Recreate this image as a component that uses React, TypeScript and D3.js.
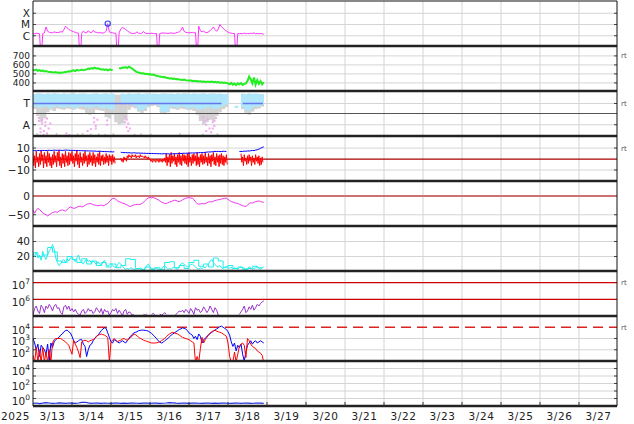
import React from 'react';
import * as d3 from 'd3';

const START = Date.UTC(2025, 2, 13);
const END = Date.UTC(2025, 2, 28);
const HOUR = 3600e3;

// hourly values from 3/13 00:00 UT

// GOES X-ray flux, in 1e-6 W/m2 (0 = data dropout)
const xrayC = [
  1.6, 1.5, 1.7, 1.6, 1.5, 0, 1.6, 1.8, 6.0, 2.5, 2.0, 1.9,
  1.8, 2.2, 2.0, 1.9, 2.0, 2.3, 2.1, 3.5, 7.0, 5.0, 3.8, 3.0,
  2.6, 2.3, 2.0, 1.8, 1.7, 0, 1.7, 2.6, 1.9, 1.8, 2.8, 2.0,
  1.9, 3.0, 2.2, 2.0, 1.8, 1.9, 1.8, 1.7, 1.9, 2.5, 12, 2.2,
  1.9, 1.8, 1.7, 1.6, 0, 1.8, 4.0, 5.5, 4.5, 3.6, 2.8, 2.2,
  1.8, 1.6, 1.6, 1.7, 2.2, 1.7, 1.6, 1.7, 2.4, 1.7, 1.6, 1.6,
  1.6, 1.7, 1.6, 1.5, 1.6, 0, 1.6, 1.7, 1.8, 1.7, 1.7, 1.6,
  1.7, 1.8, 1.7, 1.6, 1.8, 2.0, 2.2, 3.0, 6.0, 2.5, 2.0, 1.9,
  1.8, 1.9, 2.0, 1.8, 1.9, 0, 7.0, 2.8, 2.2, 2.5, 2.0, 1.9,
  2.2, 2.8, 4.0, 6.0, 3.5, 2.5, 4.0, 10, 6.5, 4.5, 3.4, 2.6,
  2.1, 1.8, 1.7, 1.6, 1.6, 0, 1.6, 1.5, 1.6, 1.5, 1.7, 1.5,
  1.6, 1.5, 1.7, 1.6, 1.8, 1.5, 1.6, 1.5, 1.6, 1.5, 1.4,
];
const flareMarks = [{ h: 46, v: 12 }];

// solar wind speed (km/s)
const windSpeed = [
  545, 540, 548, 535, 542, 530, 538, 528, 532, 525, 520, 522,
  518, 515, 520, 512, 516, 510, 515, 518, 522, 525, 530, 528,
  535, 540, 532, 545, 538, 542, 548, 540, 545, 550, 560, 555,
  565, 558, 570, 560, 562, 555, 548, 552, 545, 550, 540, 548,
  545, 540, null, null, null, 565, 560, 570, 568, 575, 565, 580,
  570, 560, 545, 530, 520, 515, 510, 505, 508, 500, 502, 495,
  498, 490, 492, 485, 480, 475, 470, 468, 462, 465, 458, 455,
  450, 452, 445, 448, 440, 442, 438, 435, 432, 436, 430, 428,
  425, 428, 420, 424, 418, 420, 415, 418, 412, 416, 410, 414,
  412, 410, 415, 408, 412, 405, 410, 402, 406, 400, 404, 398,
  395, 385, 400, 380, 392, 375, 395, 385, 398, 378, 390, 395,
  420, 470, 440, 395, 460, 380, 430, 390, 420, 385, 410,
];

// IMF sector (phi, deg) in 2-hour bins: light blue band, grey spread
const sectorTop = [
  24, 20, 22, 25, 21, 23, 20, 22, 24, 21, 23, 22, 20, 24, 22, 21, 23, 25, 22, 20, 24, 22, 21, 23, 22,
  null, null,
  22, 24, 21, 23, 22, 20, 24, 22, 21, 23, 22, 24,
  22, 21, 23,
  22, 24, 21, 23, 20, 22, 24, 21, 23, 22, 20, 24, 22, 21, 23, 22,
  24, 26, null, null, 118, null,
  22, 24, 21, 23, 22, 24, 26,
  null,
];
const sectorBottom = [
  125, 130, 135, 120, 128, 140, 125, 118, 130, 135, 122, 128, 140, 132, 125, 120, 130, 138, 128, 122, 135, 140, 130, 145, 150,
  null, null,
  95, 100, 105, 110, 120, 150, 155, 140, 110, 105, 100, 115,
  165, 170, 160,
  125, 130, 135, 120, 128, 140, 135, 130, 145, 150, 140, 135, 130, 145, 140, 130,
  120, 105, null, null, 135, null,
  130, 150, 160, 135, 120, 125, 110,
  null,
];
const sectorGrey = [
  145, 200, 250, 220, 170, 150, 160, 140, 145, 150, 140, 145, 150, 140, 145, 150, 175, 190, 180, 150, 155, 160, 210, 220, 190,
  250, 270,
  260, 230, 150, 130, 140, 165, 175, 160, 130, 120, 115, 130,
  175, 185, 170,
  140, 145, 150, 140, 145, 150, 150, 160, 190, 240, 270, 250, 230, 240, 200, 170,
  145, 130, null, null, null, null,
  145, 175, 190, 165, 145, 140, 125,
  null,
];
const sectorPink = [
  [3, 215], [3, 240], [4, 300], [5, 230], [5, 260], [6, 320], [7, 250], [7, 280], [8, 220], [9, 300], [10, 260],
  [4, 330], [8, 340], [20, 340], [33, 320], [35, 305], [37, 215], [37, 250], [38, 280], [38, 300], [39, 230], [45, 235],
  [45, 270], [56, 205], [56, 250], [57, 230], [57, 290], [58, 320], [58, 260], [59, 300],
  [104, 210], [105, 240], [106, 270], [107, 225], [108, 300], [109, 330], [110, 250], [111, 280], [112, 215],
  [106, 320], [110, 300], [111, 240],
];
const sectorGreyDots = [
  [2, 345], [6, 350], [14, 345], [22, 352], [27, 348], [30, 345], [35, 350], [40, 348], [44, 352],
  [49, 346], [62, 350], [66, 348], [72, 350], [90, 345], [104, 350], [113, 348],
];
const sectorMean = [[0, 116], [129, 141.5]];

// IMF Bt and Bz (nT); Bz as hourly max / min
const imfBt = [
  7.6, 7.7, 7.5, 7.8, 7.7, 7.6, 7.9, 7.8, 7.7, 7.9, 8.0, 7.8,
  7.9, 8.1, 8.0, 7.9, 8.1, 8.0, 7.8, 8.0, 8.2, 8.1, 8.0, 7.9,
  8.0, 7.8, 7.9, 7.7, 7.8, 7.6, 7.7, 7.5, 7.6, 7.4, 7.5, 7.3,
  7.4, 7.2, 7.3, 7.1, 7.0, 7.2, 7.0, 6.8, 6.9, 6.7, 6.8, 6.6,
  6.7, 6.5, 6.6, null, null, null, 6.2, 6.0, 5.8, 5.9, 5.7, 5.8,
  5.6, 5.5, 5.7, 5.6, 5.4, 5.5, 5.3, 5.4, 5.2, 5.3, 5.1, 5.2,
  5.0, 5.1, 5.0, 4.9, 5.0, 4.8, 4.9, 4.7, 4.8, 4.9, 4.7, 4.8,
  4.6, 4.7, 4.8, 4.9, 4.8, 5.0, 5.1, 5.0, 5.2, 5.3, 5.2, 5.4,
  5.3, 5.5, 5.6, 5.5, 5.7, 5.6, 5.8, 5.9, 5.8, 6.0, 6.1, 6.3,
  6.5, 6.4, 6.6, 6.8, 7.0, 6.9, 7.0, 6.8, 6.9, 7.1, 7.0, 6.9,
  null, null, null, null, null, null, null, 6.8, 7.0, 6.9, 7.2, 7.1,
  7.4, 7.3, 7.6, 7.8, 7.7, 8.2, 8.5, 9.0, 9.8, 10.5, 11.2,
];
const bzMax = [
  6, 3, 7, 2, 5, 8, 4, 6, 3, 7, 5, 2,
  4, 7, 3, 6, 8, 2, 5, 4, 7, 3, 6, 5,
  7, 3, 5, 8, 4, 6, 2, 5, 7, 3, 4, 6,
  3, 6, 4, 2, 5, 7, 3, 4, 2, 5, 3, 4,
  3, 4, 2, null, null, null, 1, 0, 2, 1, 3, 4,
  3, 4, 3, 4, 3, 3, 4, 3, 2, 3, 2, 2,
  0, -1, 0, -1, 0, -1, 0, -1, 0, 1, 5, 2,
  4, 6, 3, 5, 2, 4, 6, 3, 5, 4, 3, 5,
  6, 2, 4, 5, 3, 6, 2, 4, 5, 3, 6, 2,
  5, 3, 4, 6, 2, 5, 3, 4, 5, 3, 2, 4,
  null, null, null, null, null, null, null, null, 5, 2, 4, 1,
  3, 4, 2, 3, 1, 4, 2, 3, 1, 2, null,
];
const bzMin = [
  -6, -8, -3, -7, -5, -2, -8, -4, -7, -3, -6, -8,
  -5, -3, -7, -2, -6, -8, -4, -7, -3, -6, -5, -2,
  -4, -7, -2, -5, -8, -3, -6, -4, -2, -7, -5, -3,
  -6, -4, -7, -3, -5, -6, -2, -5, -4, -3, -6, -2,
  -5, -3, -4, null, null, null, -2, -3, -1, -2, 1, 2,
  1, 2, 2, 1, 2, 1, 2, 2, 1, 1, 0, 0,
  -2, -3, -2, -3, -2, -3, -2, -3, -2, -3, -6, -3,
  -7, -4, -2, -5, -7, -3, -5, -6, -2, -4, -5, -7,
  -3, -6, -4, -2, -6, -5, -7, -3, -5, -4, -3, -6,
  -4, -7, -2, -5, -6, -3, -7, -4, -5, -6, -3, -5,
  null, null, null, null, null, null, null, null, -3, -6, -2, -5,
  -4, -2, -6, -3, -5, -2, -4, -6, -5, -3, null,
];

// Dst index (nT)
const dst = [
  -37, -46, -38, -33, -36, -40, -45, -48, -50, -53, -50, -47,
  -44, -43, -42, -44, -40, -38, -37, -39, -40, -36, -32, -29,
  -31, -33, -32, -30, -28, -27, -29, -28, -25, -22, -21, -20,
  -21, -23, -24, -25, -26, -25, -24, -26, -25, -22, -20, -15,
  -10, -7, -6, -9, -13, -15, -17, -19, -20, -22, -24, -27,
  -28, -26, -24, -23, -22, -23, -22, -20, -17, -12, -8, -5,
  -4, -5, -4, -6, -8, -10, -13, -16, -18, -20, -20, -18,
  -16, -15, -13, -11, -12, -14, -15, -13, -10, -8, -6, -5,
  -4, -6, -5, -10, -16, -20, -22, -21, -20, -21, -20, -18,
  -16, -15, -16, -14, -12, -11, -10, -9, -8, -7, -6, -6,
  -9, -12, -15, -16, -18, -19, -20, -22, -24, -26, -27, -28,
  -24, -20, -18, -19, -17, -15, -14, -13, -15, -16, -17,
];

// cyan panel: hourly series and 3-hourly series
const cyanHourly = [
  24, 20, 26, 18, 22, 15, 27, 20, 16, 22, 28, 30,
  36, 30, 18, 12, 8, 10, 14, 16, 12, 17, 14, 18,
  20, 16, 13, 18, 22, 15, 12, 10, 14, 17, 13, 15,
  11, 14, 12, 9, 13, 10, 8, 12, 15, 10, 7, 9,
  11, 8, 6, 5, 9, 12, 10, 7, 5, 3, 4, 3,
  5, 4, 3, 2, 4, 3, 5, 3, 2, 4, 8, 10,
  6, 4, 3, 5, 4, 3, 2, 4, 6, 8, 5, 3,
  4, 3, 5, 6, 4, 3, 7, 10, 12, 9, 8, 6,
  7, 9, 10, 8, 6, 4, 3, 5, 4, 6, 5, 8,
  10, 14, 16, 12, 9, 7, 6, 8, 5, 4, 6, 7,
  5, 4, 6, 3, 5, 4, 3, 5, 6, 4, 5, 3,
  4, 6, 5, 3, 4, 5, 7, 4, 3, 5, 6,
];
const cyan3h = [
  25, 20, 22, 32, 26, 14, 12, 20, 16, 12, 17, 10,
  14, 8, 12, 6, 10, 5, 8, 17, 16, 4, 3, 6,
  3, 5, 3, 12, 13, 5, 8, 4, 12, 15, 7, 10,
  6, 18, 14, 5, 8, 4, 6, 3, 4, 7, 5, 6,
];

// electron flux, log10
const electronLog = [
  5.05, 5.45, 5.6, 5.3, 5.15, 5.65, 5.5, 5.2, 5.6, 5.45, 5.7, 5.55,
  5.3, 5.6, 5.7, 5.45, 5.5, 5.2, 5.1, 5.55, 5.65, 5.4, 5.6, 5.3,
  5.45, 5.25, 5.4, 5.2, 5.1, 5.05, 5.3, 5.4, 5.15, 5.25, 5.45, 5.3,
  5.35, 5.15, 5.25, 5.5, 5.35, 5.2, 5.45, 5.1, 5.4, 5.25, 5.3, 5.05,
  5.2, 5.4, 5.3, 5.45, 5.15, 5.35, 5.2, 5.0, 5.3, 5.4, 5.1, 5.25,
  5.2, 5.05, 5.1, null, null, null, null, null, 5.1, 5.05, 5.12, null,
  null, 5.1, 5.15, 5.08, null, null, 5.12, 5.05, 5.1, 5.2, 5.12, null,
  null, null, null, 5.0, 5.1, 5.2, 5.3, 5.25, 5.35, 5.2, 5.4, 5.3,
  5.15, 5.45, 5.3, 5.1, 5.5, 5.35, 5.4, 5.2, 5.3, 5.55, 5.4, 5.2,
  5.35, 5.6, 5.4, 5.2, 5.5, 5.35, 5.05, null, null, null, null, null,
  null, null, 5.3, null, null, null, null, 5.1, 5.25, 5.4, 5.6, 5.2,
  5.3, 5.55, 5.4, 5.65, 5.35, 5.5, 5.7, 5.6, 5.75, 5.85, 5.9,
];

// proton flux, log10 (two channels)
const protonBlueLog = [
  3.0, 2.6, 2.0, 2.5, 1.4, 2.4, 2.2, 2.0, 1.6, 2.5, 1.0, 2.6,
  2.2, 2.7, 2.9, 3.0, 3.1, 3.3, 3.4, 3.6, 3.7, 3.75, 3.6, 3.5,
  3.2, 2.8, 2.6, 2.7, 2.8, 2.9, 2.9, 2.5, 2.3, 1.4, 2.0, 2.4,
  2.5, 2.8, 3.0, 3.2, 3.3, 3.5, 3.7, 3.85, 3.95, 3.9, 3.5, 3.1,
  2.7, 2.6, 2.9, 2.8, 2.7, 2.6, 2.7, 2.8, 2.7, 2.6, 2.8, 3.0,
  3.2, 3.35, 3.5, 3.55, 3.6, 3.7, 3.72, 3.75, 3.74, 3.72, 3.7, 3.65,
  3.55, 3.45, 3.3, 3.15, 3.0, 2.8, 2.7, 2.6, 2.65, 2.8, 2.9, 3.0,
  3.15, 3.3, 3.4, 3.5, 3.6, 3.7, 3.8, 3.85, 3.95, 3.9, 3.85, 3.7,
  3.5, 3.4, 3.3, 3.0, 3.2, 2.9, 3.4, 3.2, 2.6, 2.9, 3.0, 3.2,
  3.3, 3.45, 3.55, 3.65, 3.75, 3.85, 3.95, 4.05, 4.1, 4.0, 3.9, 3.8,
  3.6, 3.3, 2.7, 2.3, 2.6, 1.9, 2.4, 2.2, 2.5, 1.6, 1.0, 1.8,
  2.4, 2.6, 2.8, 2.5, 2.7, 2.8, 2.6, 2.7, 2.8, 2.7, 2.6,
];
const protonRedLog = [
  1.5, 0.9, 2.2, 0.9, 2.0, 0.9, 2.2, 0.9, 1.8, 0.9, 2.0, 0.9,
  2.6, 2.9, 3.0, 3.0, 3.0, 3.0, 2.9, 2.8, 2.7, 2.55, 2.4, 2.0,
  1.6, 2.85, 2.5, 2.2, 1.8, 1.3, 2.7, 2.8, 2.85, 2.8, 2.7, 2.8,
  2.85, 2.9, 3.0, 3.15, 3.3, 3.35, 3.4, 3.35, 3.3, 3.2, 3.1, 0.9,
  2.7, 2.85, 3.0, 2.85, 2.7, 2.8, 2.85, 2.95, 3.0, 2.9, 2.85, 2.95,
  3.1, 3.2, 3.4, 3.35, 3.25, 3.1, 3.0, 2.95, 2.85, 2.8, 2.75, 2.7,
  2.65, 2.6, 2.6, 2.6, 2.62, 2.65, 2.7, 2.8, 2.9, 3.0, 3.15, 3.3,
  3.4, 3.5, 3.55, 3.5, 3.45, 3.4, 3.3, 3.2, 3.1, 3.05, 3.0, 2.95,
  2.9, 2.8, 2.7, 2.6, 0.9, 1.4, 0.9, 2.1, 3.1, 2.6, 2.9, 3.1,
  3.3, 3.5, 3.6, 3.7, 3.75, 3.65, 3.6, 3.55, 3.5, 3.4, 3.3, 3.2,
  2.6, 1.4, 0.9, 0.9, 1.8, 0.9, 1.6, 2.3, 2.5, 2.6, 2.4, 1.3,
  3.0, 2.8, 2.5, 2.3, 2.2, 2.1, 1.9, 1.8, 1.7, 1.5, 0.9,
];

// bottom panel, log10, 2-hour values
const bottomLog = [
  -0.65, -0.6, -0.68, -0.62, -0.55, -0.6, -0.66, -0.63, -0.58, -0.61, -0.64, -0.6,
  -0.62, -0.66, -0.6, -0.52, -0.5, -0.58, -0.64, -0.6, -0.62, -0.65, -0.6, -0.63,
  -0.66, -0.62, -0.6, -0.64, -0.61, -0.65, -0.62, -0.6, -0.63, -0.66, -0.62, -0.6,
  -0.64, -0.6, -0.62, -0.66, -0.63, -0.6, -0.55, -0.58, -0.62, -0.64, -0.6, -0.62,
  -0.65, -0.62, -0.6, -0.63, -0.66, -0.62, -0.6, -0.64, -0.61, -0.65, -0.62, -0.6,
  -0.63, -0.66, -0.62, -0.6, -0.64, -0.6, -0.62, -0.66, -0.63, -0.6, -0.62, -0.64,
];

const L = 33;
const R = 618;
const PH = 45;
const tops = d3.range(9).map(i => 1 + PH * i);
const GRID = '#d4d4d4';
const FONT = 'DejaVu Sans, sans-serif';

type Pt = { h: number; v: number | null };
const hourly = (arr: (number | null)[], step = 1): Pt[] => arr.map((v, i) => ({ h: i * step, v }));

function Lbl({ y, t, size }: { y: number; t: string; size?: number }) {
  return <text x={30} y={y} dy="0.36em" textAnchor="end" fontSize={size}>{t}</text>;
}
function Pow({ y, e }: { y: number; e: string }) {
  return (
    <text x={30} y={y + 3} dy="0.36em" textAnchor="end">
      10<tspan dy={-5} fontSize={7.5}>{e}</tspan>
    </text>
  );
}

export default function App() {
  const x = d3.scaleUtc().domain([new Date(START), new Date(END)]).range([L, R]);
  const xh = (h: number) => x(new Date(START + h * HOUR));
  const days = d3.utcDay.range(new Date(START), new Date(END));
  const fmt = d3.utcFormat('%-m/%-d');

  const yX = d3.scaleLog().domain([1e-7, 1e-3]).range([47, 2]);
  const yV = d3.scaleLinear().domain([310, 810]).range([91, 46]);
  const yP = d3.scaleLinear().domain([0, 360]).range([91, 136]);
  const yB = d3.scaleLinear().domain([-20, 21]).range([181, 136]);
  const yD = d3.scaleLinear().domain([-80, 40]).range([226, 181]);
  const yC = d3.scaleLinear().domain([0, 60]).range([271.5, 226.5]);
  const yE = d3.scaleLog().domain([1e5, Math.pow(10, 7.7)]).range([316, 271]);
  const yPr = d3.scaleLog().domain([10, 1e5]).range([361, 316]);
  const yN = d3.scaleLog().domain([0.1, 1e5]).range([406, 361]);

  const mk = (y: (v: number) => number, curve: d3.CurveFactory = d3.curveLinear) =>
    d3.line<Pt>().defined(d => d.v != null).x(d => xh(d.h)).y(d => y(d.v as number)).curve(curve);

  const xrayPath = mk(v => (v > 0 ? yX(v * 1e-6) : 60))(hourly(xrayC));
  const speedPath = mk(yV)(hourly(windSpeed));
  const btPath = mk(yB)(hourly(imfBt));
  const bzPts: Pt[] = [];
  bzMax.forEach((hi, i) => {
    bzPts.push({ h: i, v: hi });
    bzPts.push({ h: i + 0.5, v: bzMin[i] });
  });
  const bzPath = mk(yB)(bzPts);
  const dstPath = mk(yD)(hourly(dst));
  const cyanPathA = mk(yC)(hourly(cyanHourly));
  const cyanPathB = mk(yC, d3.curveStepAfter)(hourly(cyan3h, 3));
  const ePath = mk(v => yE(Math.pow(10, v)))(hourly(electronLog));
  const pbPath = mk(v => yPr(Math.pow(10, v)))(hourly(protonBlueLog));
  const prPath = mk(v => yPr(Math.pow(10, v)))(hourly(protonRedLog));
  const nPath = mk(v => yN(Math.pow(10, v)))(hourly(bottomLog, 2));

  const hGrid: number[] = [
    yX(1e-6), yX(1e-5), yX(1e-4),
    yV(400), yV(500), yV(600), yV(700),
    yP(100), yP(270),
    yB(10), yB(-10),
    yD(-50),
    yC(20), yC(40),
    yPr(100), yPr(1000),
    yN(1), yN(10), yN(100), yN(1000), yN(1e4),
  ];

  return (
    <div style={{ position: 'absolute', left: 0, top: 0 }}>
      <svg width={634} height={424} style={{ display: 'block', background: '#fff' }} fontFamily={FONT}>
        <defs>
          {tops.map((t, i) => (
            <clipPath id={`pc${i}`} key={i}>
              <rect x={L} y={t} width={R - 1 - L} height={PH} />
            </clipPath>
          ))}
        </defs>

        {/* grid */}
        {days.slice(1).map((d, i) => (
          <line key={i} x1={x(d)} x2={x(d)} y1={1} y2={406} stroke={GRID} />
        ))}
        {hGrid.map((y, i) => (
          <g key={i}>
            <line x1={L} x2={R - 1} y1={y} y2={y} stroke={GRID} />
            <line x1={L} x2={L + 3} y1={y} y2={y} stroke="#444" />
            <line x1={R - 4} x2={R - 1} y1={y} y2={y} stroke="#444" />
          </g>
        ))}

        {/* X-ray */}
        <g clipPath="url(#pc0)">
          <path d={xrayPath ?? ''} fill="none" stroke="#ff33ff" strokeWidth={1} />
          {flareMarks.map((f, i) => (
            <circle key={i} cx={xh(f.h)} cy={yX(f.v * 1e-6)} r={2.6} fill="none" stroke="#3344ff" strokeWidth={1.2} />
          ))}
        </g>

        {/* wind speed */}
        <g clipPath="url(#pc1)">
          <path d={speedPath ?? ''} fill="none" stroke="#22ee22" strokeWidth={2} />
        </g>

        {/* sector */}
        <g clipPath="url(#pc2)">
          {sectorGrey.map((g, i) =>
            g == null ? null : (
              <rect key={'g' + i} x={xh(i * 2)} width={xh(2) - xh(0) + 0.3}
                y={yP(sectorTop[i] ?? 30)} height={yP(g) - yP(sectorTop[i] ?? 30)} fill="#d2d2d2" />
            )
          )}
          {sectorGreyDots.map(([h, p], i) => (
            <rect key={'d' + i} x={xh(h)} y={yP(p) - 1} width={1.6} height={1.6} fill="#c4c4c4" />
          ))}
          {sectorTop.map((t, i) =>
            t == null || sectorBottom[i] == null ? null : (
              <rect key={'b' + i} x={xh(i * 2)} width={xh(2) - xh(0) + 0.3}
                y={yP(t)} height={yP(sectorBottom[i] as number) - yP(t)} fill="#aee6fb" />
            )
          )}
          {sectorPink.map(([h, p], i) => (
            <rect key={'p' + i} x={xh(h)} y={yP(p) - 1} width={2} height={2} fill="#f4a8f0" />
          ))}
          {sectorMean.map(([a, b], i) => (
            <line key={'m' + i} x1={xh(a)} x2={xh(b)} y1={yP(100)} y2={yP(100)} stroke="#6677ee" strokeWidth={1.5} />
          ))}
        </g>
        <line x1={L} x2={R - 1} y1={yP(180)} y2={yP(180)} stroke="#555" strokeWidth={1.2} />

        {/* IMF */}
        <line x1={L} x2={R - 1} y1={yB(0)} y2={yB(0)} stroke="#aa0000" strokeWidth={1.2} />
        <g clipPath="url(#pc3)">
          <path d={bzPath ?? ''} fill="none" stroke="#ff0000" strokeWidth={1} />
          <path d={btPath ?? ''} fill="none" stroke="#0000ff" strokeWidth={1} />
        </g>

        {/* Dst */}
        <line x1={L} x2={R - 1} y1={yD(0)} y2={yD(0)} stroke="#cc7272" strokeWidth={2} />
        <g clipPath="url(#pc4)">
          <path d={dstPath ?? ''} fill="none" stroke="#ee33ee" strokeWidth={1} />
        </g>

        {/* cyan */}
        <g clipPath="url(#pc5)">
          <path d={cyanPathB ?? ''} fill="none" stroke="#22eeee" strokeWidth={1} />
          <path d={cyanPathA ?? ''} fill="none" stroke="#22eeee" strokeWidth={1} />
        </g>

        {/* electrons */}
        <line x1={L} x2={R - 1} y1={yE(1e6)} y2={yE(1e6)} stroke="#cc0000" strokeWidth={1.2} />
        <line x1={L} x2={R - 1} y1={yE(1e7)} y2={yE(1e7)} stroke="#cc0000" strokeWidth={1.2} />
        <g clipPath="url(#pc6)">
          <path d={ePath ?? ''} fill="none" stroke="#9933cc" strokeWidth={1} />
        </g>

        {/* protons */}
        <line x1={L} x2={R - 1} y1={yPr(1e4)} y2={yPr(1e4)} stroke="#dd2222" strokeWidth={1.3} strokeDasharray="10,6" />
        <g clipPath="url(#pc7)">
          <path d={pbPath ?? ''} fill="none" stroke="#0000ff" strokeWidth={1} />
          <path d={prPath ?? ''} fill="none" stroke="#ff0000" strokeWidth={1} />
        </g>

        {/* bottom */}
        <g clipPath="url(#pc8)">
          <path d={nPath ?? ''} fill="none" stroke="#2233dd" strokeWidth={1.2} />
        </g>

        {/* frame */}
        <line x1={L} x2={R - 1} y1={1} y2={1} stroke="#111" />
        {tops.map((t, i) => (
          <line key={i} x1={L} x2={R - 1} y1={t + PH} y2={t + PH} stroke="#222" strokeWidth={2.5} />
        ))}
        <line x1={L} x2={L} y1={1} y2={406} stroke="#111" />
        <line x1={R - 1} x2={R - 1} y1={1} y2={406} stroke="#111" />
        {days.slice(1).map((d, i) => (
          <line key={i} x1={x(d)} x2={x(d)} y1={402} y2={406} stroke="#333" />
        ))}

        {/* axis labels */}
        <g fontSize={10.5} fill="#222">
          <Lbl y={yX(1e-4)} t="X" />
          <Lbl y={yX(1e-5)} t="M" />
          <Lbl y={yX(1e-6)} t="C" />
          {[700, 600, 500, 400].map(v => <Lbl key={v} y={yV(v)} t={String(v)} size={9} />)}
          <Lbl y={yP(100)} t="T" />
          <Lbl y={yP(270)} t="A" />
          {[10, 0, -10].map(v => <Lbl key={v} y={yB(v)} t={v < 0 ? '\u2212' + Math.abs(v) : String(v)} />)}
          {[0, -50].map(v => <Lbl key={v} y={yD(v)} t={v < 0 ? '\u2212' + Math.abs(v) : String(v)} />)}
          {[40, 20].map(v => <Lbl key={v} y={yC(v)} t={String(v)} />)}
          <Pow y={yE(1e7)} e="7" />
          <Pow y={yE(1e6)} e="6" />
          <Pow y={yPr(1e4)} e="4" />
          <Pow y={yPr(1e3)} e="3" />
          <Pow y={yPr(1e2)} e="2" />
          <Pow y={yN(1e4)} e="4" />
          <Pow y={yN(1e2)} e="2" />
          <Pow y={yN(1)} e="0" />
        </g>

        {/* rt marks */}
        <g fontSize={7} fill="#555">
          {[yV(700), yP(100), yB(10), yE(1e7), yPr(1e4)].map((y, i) => (
            <text key={i} x={621} y={y + 2.5}>rt</text>
          ))}
        </g>

        {/* date axis */}
        <g fontSize={10.5} fill="#222" letterSpacing={0.6}>
          <text x={30} y={420} textAnchor="end">2025</text>
          {days.map((d, i) => (
            <text key={i} x={x(new Date(+d + 12 * HOUR))} y={420} textAnchor="middle">{fmt(d)}</text>
          ))}
        </g>
      </svg>
    </div>
  );
}
